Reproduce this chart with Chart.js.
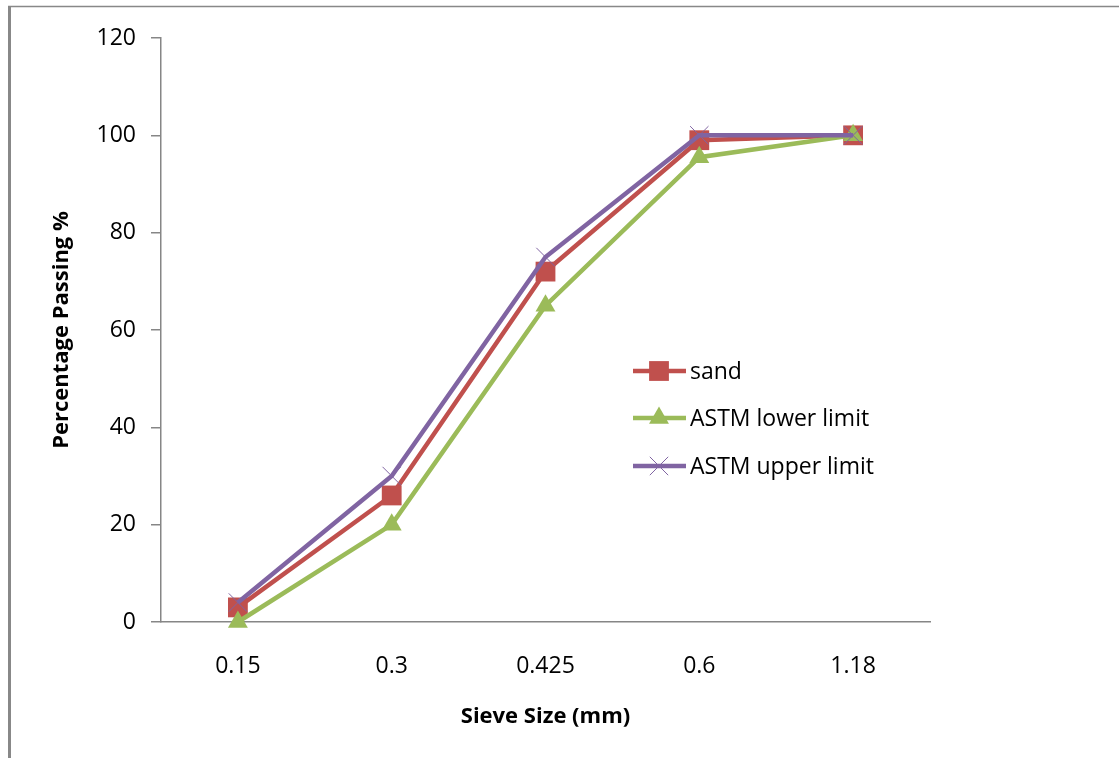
<!DOCTYPE html>
<html>
<head>
<meta charset="utf-8">
<script src="https://cdn.jsdelivr.net/npm/chart.js@4.4.0/dist/chart.umd.min.js"></script>
<style>
  body { margin: 0; background: #fff; }
  #wrap { width: 1119px; height: 759px; }
</style>
</head>
<body>
<div id="wrap"><canvas id="ch1"></canvas></div>
<script>
// sieve analysis - sand vs ASTM limits
var sieveSizes = ['0.15', '0.3', '0.425', '0.6', '1.18'];
var sandPassing = [3, 26, 72, 99, 100];
var lowerLimit = [0, 20, 65, 95.5, 100];
var upperLimit = [4, 30, 75, 100, 100];
var yTicks = [0, 20, 40, 60, 80, 100, 120];

var FONT = "'Open Sans', 'Noto Sans', sans-serif";

// frame round the chart + legend inside the plot area
var extras = {
  id: 'extras',
  afterDraw: function(chart) {
    var c = chart.ctx;
    var ys = [371, 418, 466];
    c.save();
    c.strokeStyle = '#888888';
    c.lineWidth = 1.5;
    c.beginPath();
    c.moveTo(8, 6.5);
    c.lineTo(1119, 6.5);
    c.stroke();
    c.lineWidth = 3;
    c.beginPath();
    c.moveTo(9.5, 6);
    c.lineTo(9.5, 758);
    c.stroke();

    chart.data.datasets.forEach(function(ds, i) {
      var y = ys[i];
      c.strokeStyle = ds.borderColor;
      c.lineWidth = ds.borderWidth;
      c.beginPath();
      c.moveTo(633, y);
      c.lineTo(686, y);
      c.stroke();
      c.fillStyle = ds.backgroundColor;
      c.lineWidth = ds.pointBorderWidth;
      Chart.helpers.drawPoint(c, {
        pointStyle: ds.pointStyle,
        radius: ds.pointRadius,
        borderWidth: ds.pointBorderWidth,
        rotation: 0
      }, 659, y);
      c.fillStyle = '#000';
      c.font = '23px ' + FONT;
      c.textBaseline = 'middle';
      c.textAlign = 'left';
      c.fillText(ds.label, 690, y + 1);
    });
    c.restore();
  }
};

var ctx1 = document.getElementById('ch1').getContext('2d');
var myChart = new Chart(ctx1, {
  type: 'line',
  data: {
    labels: sieveSizes,
    datasets: [{
      label: 'sand',
      data: sandPassing,
      borderColor: '#C0504D',
      backgroundColor: '#C0504D',
      borderWidth: 4.5,
      pointStyle: 'rect',
      pointRadius: 14,
      pointBorderWidth: 0,
      clip: false,
      order: 3
    }, {
      label: 'ASTM lower limit',
      data: lowerLimit,
      borderColor: '#9BBB59',
      backgroundColor: '#9BBB59',
      borderWidth: 4.5,
      pointStyle: 'triangle',
      pointRadius: 11.5,
      pointBorderWidth: 0,
      clip: false,
      order: 2
    }, {
      label: 'ASTM upper limit',
      data: upperLimit,
      borderColor: '#8064A2',
      backgroundColor: '#8064A2',
      borderWidth: 4.5,
      pointStyle: 'crossRot',
      pointRadius: 13,
      pointBorderWidth: 1,
      clip: false,
      order: 1
    }]
  },
  options: {
    responsive: true,
    maintainAspectRatio: false,
    animation: false,
    devicePixelRatio: 1,
    layout: { padding: { top: 38, right: 189, left: 0, bottom: 0 } },
    plugins: {
      legend: { display: false },
      tooltip: { enabled: false }
    },
    scales: {
      x: {
        offset: true,
        grid: { display: false, drawTicks: false },
        border: { display: true, color: '#868686', width: 1.5 },
        ticks: { color: '#000', padding: 31, font: { family: FONT, size: 23 } },
        title: {
          display: true,
          text: 'Sieve Size (mm)',
          color: '#000',
          font: { family: FONT, size: 22, weight: 'bold' },
          padding: { top: 0, bottom: 29 }
        },
        afterFit: function(scale) { scale.height = 137; }
      },
      y: {
        min: 0,
        max: 120,
        afterBuildTicks: function(scale) {
          scale.ticks = yTicks.map(function(v) { return { value: v }; });
        },
        grid: { drawOnChartArea: false, drawTicks: true, tickLength: 10, color: '#868686', lineWidth: 1.5 },
        border: { display: true, color: '#868686', width: 1.5 },
        ticks: { color: '#000', padding: 15, font: { family: FONT, size: 23 } },
        title: {
          display: true,
          text: 'Percentage Passing %',
          color: '#000',
          font: { family: FONT, size: 22, weight: 'bold' },
          padding: { top: 49, bottom: 0 }
        },
        afterFit: function(scale) { scale.width = 161; }
      }
    }
  },
  plugins: [extras]
});
</script>
</body>
</html>
